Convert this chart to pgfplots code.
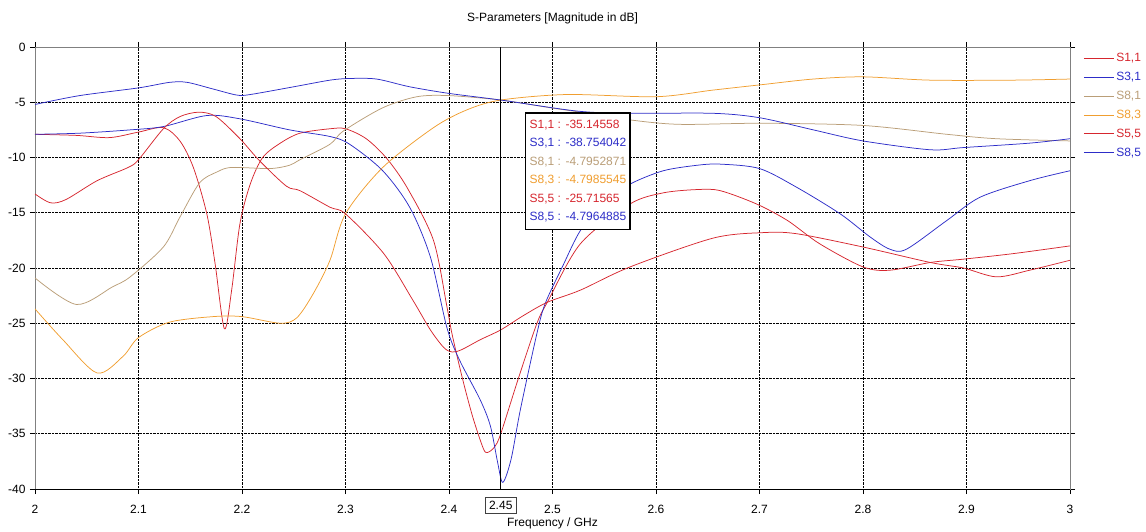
\documentclass[border=0pt]{standalone}
\usepackage{fontspec}
\setmainfont{Liberation Sans}
\usepackage{pgfplots}
\pgfplotsset{compat=1.18}

\definecolor{sred}{RGB}{214,38,46}
\definecolor{sblue}{RGB}{45,45,200}
\definecolor{stan}{RGB}{186,158,120}
\definecolor{sorange}{RGB}{240,158,48}

\newcommand{\lbl}{\fontsize{12}{14}\selectfont}

\begin{document}
\begin{tikzpicture}
\useasboundingbox (-35pt,-42pt) rectangle (1111pt,489pt);
\begin{axis}[
  scale only axis, width=1035pt, height=442pt,
  xmin=2, xmax=3, ymin=-40, ymax=0,
  xtick={2,2.1,2.2,2.3,2.4,2.5,2.6,2.7,2.8,2.9,3},
  xticklabels={2,2.1,2.2,2.3,2.4,2.5,2.6,2.7,2.8,2.9,3},
  ytick={-40,-35,-30,-25,-20,-15,-10,-5,0},
  grid=major,
  major grid style={black, densely dotted, line width=0.7pt},
  axis line style={gray, line width=0.8pt},
  tick style={black, line width=0.6pt},
  tick align=outside, major tick length=5pt,
  ticklabel style={font=\lbl},
  /pgf/number format/assume math mode=true,
  xticklabel style={yshift=-8pt},
  yticklabel style={xshift=-1pt},
  extra x ticks={2.45},
  extra x tick labels={2.45},
  extra x tick style={grid=none, major tick length=0pt,
    xticklabel style={draw=black!75, line width=0.6pt, inner xsep=4pt, inner ysep=4pt, fill=white}},
  legend style={at={(1.01,0.995)}, anchor=north west, draw=none, fill=none,
    font=\lbl, row sep=5pt, legend cell align=left},
  legend image code/.code={\draw[#1] (0pt,0pt) -- (30pt,0pt);},
  every axis plot/.append style={line width=0.75pt, smooth, tension=0.5, mark=none},
]
% S1,1
\addplot[sred] coordinates {
(2.00,-7.9) (2.04,-8.0) (2.072,-8.2) (2.10,-7.7) (2.124,-7.3) (2.14,-8.5)
(2.153,-10.9) (2.166,-15.1) (2.174,-19.6) (2.183,-25.5) (2.19,-22.0) (2.198,-16.0)
(2.208,-12.4) (2.22,-10.0) (2.237,-8.7) (2.256,-7.8) (2.285,-7.4) (2.30,-7.4)
(2.32,-8.3) (2.34,-10.1) (2.36,-12.8) (2.385,-17.5) (2.398,-23.5) (2.403,-26.0)
(2.413,-30.0) (2.423,-33.5) (2.433,-36.3) (2.437,-36.7) (2.444,-36.2) (2.45,-35.0)
(2.467,-30.0) (2.485,-25.0) (2.495,-23.1) (2.527,-17.8) (2.575,-14.2) (2.607,-13.2)
(2.64,-12.9) (2.662,-13.0) (2.697,-14.2) (2.727,-15.7) (2.758,-17.8) (2.80,-19.9)
(2.826,-20.2) (2.865,-19.5) (2.897,-19.2) (2.945,-18.7) (3.0,-18.0)};
\addlegendentry{\textcolor{sred}{S1,1}}
% S3,1
\addplot[sblue] coordinates {
(2.00,-7.9) (2.043,-7.8) (2.092,-7.5) (2.124,-7.2) (2.166,-6.2) (2.198,-6.5)
(2.246,-7.5) (2.285,-8.1) (2.304,-8.8) (2.336,-11.2) (2.362,-14.5) (2.382,-19.0)
(2.398,-25.4) (2.41,-28.3) (2.43,-31.9) (2.44,-34.3) (2.447,-37.6) (2.452,-39.4)
(2.46,-37.3) (2.469,-32.8) (2.485,-25.9) (2.493,-23.2) (2.51,-19.8) (2.527,-16.6)
(2.55,-14.0) (2.575,-12.4) (2.607,-11.2) (2.64,-10.7) (2.662,-10.6) (2.70,-11.0)
(2.736,-12.7) (2.778,-15.1) (2.807,-17.2) (2.826,-18.3) (2.842,-18.3) (2.881,-15.7)
(2.913,-13.6) (2.961,-12.1) (3.0,-11.2)};
\addlegendentry{\textcolor{sblue}{S3,1}}
% S8,1
\addplot[stan] coordinates {
(2.00,-20.9) (2.04,-23.3) (2.075,-21.7) (2.092,-20.8) (2.124,-18.1) (2.14,-15.4)
(2.159,-12.3) (2.176,-11.3) (2.19,-10.9) (2.227,-11.0) (2.246,-10.7) (2.256,-10.2)
(2.285,-8.8) (2.298,-7.6) (2.336,-5.5) (2.369,-4.5) (2.40,-4.4) (2.45,-4.8)
(2.498,-5.5) (2.527,-5.9) (2.575,-6.6) (2.623,-7.0) (2.703,-6.9) (2.80,-7.1)
(2.881,-7.9) (2.929,-8.3) (3.0,-8.5)};
\addlegendentry{\textcolor{stan}{S8,1}}
% S8,3
\addplot[sorange] coordinates {
(2.00,-23.7) (2.027,-26.5) (2.06,-29.5) (2.085,-28.0) (2.10,-26.3) (2.13,-24.9)
(2.172,-24.4) (2.20,-24.4) (2.237,-25.0) (2.253,-24.5) (2.269,-22.3) (2.285,-19.3)
(2.30,-15.1) (2.336,-10.9) (2.385,-7.3) (2.417,-5.7) (2.45,-4.8) (2.514,-4.3)
(2.60,-4.5) (2.655,-3.9) (2.703,-3.4) (2.752,-2.9) (2.80,-2.7) (2.865,-3.0)
(2.945,-3.0) (3.0,-2.9)};
\addlegendentry{\textcolor{sorange}{S8,3}}
% S5,5
\addplot[sred] coordinates {
(2.00,-13.3) (2.015,-14.1) (2.03,-13.8) (2.06,-12.1) (2.09,-10.9) (2.10,-10.2)
(2.124,-7.4) (2.14,-6.3) (2.158,-5.9) (2.175,-6.3) (2.198,-8.3) (2.217,-10.3)
(2.243,-12.6) (2.256,-13.0) (2.285,-14.5) (2.30,-15.1) (2.337,-18.7) (2.365,-22.9)
(2.382,-25.6) (2.395,-27.2) (2.403,-27.6) (2.412,-27.4) (2.43,-26.5) (2.45,-25.6)
(2.472,-24.3) (2.495,-23.1) (2.527,-22.0) (2.575,-19.9) (2.655,-17.3) (2.703,-16.8)
(2.736,-16.9) (2.80,-18.1) (2.865,-19.5) (2.897,-20.0) (2.929,-20.8) (2.961,-20.2)
(3.0,-19.3)};
\addlegendentry{\textcolor{sred}{S5,5}}
% S8,5
\addplot[sblue] coordinates {
(2.00,-5.2) (2.043,-4.4) (2.10,-3.7) (2.13,-3.2) (2.147,-3.2) (2.172,-3.8)
(2.195,-4.35) (2.208,-4.3) (2.25,-3.6) (2.285,-3.0) (2.304,-2.85) (2.33,-2.9)
(2.362,-3.6) (2.40,-4.2) (2.45,-4.8) (2.524,-5.8) (2.575,-6.0) (2.655,-6.0)
(2.70,-6.4) (2.752,-7.5) (2.80,-8.5) (2.865,-9.3) (2.897,-9.1) (2.961,-8.7)
(3.0,-8.3)};
\addlegendentry{\textcolor{sblue}{S8,5}}

\draw[black, line width=1.5pt] (axis cs:2.45,-40) -- (axis cs:2.45,0);
\node[draw=black, line width=1.5pt, fill=white, align=left, anchor=north west,
      inner xsep=4pt, inner ysep=7pt, font=\fontsize{12}{18.5}\selectfont]
  at (axis cs:2.4734,-5.9)
  {\textcolor{sred}{S1,1 : -35.14558}\\
   \textcolor{sblue}{S3,1 : -38.754042}\\
   \textcolor{stan}{S8,1 : -4.7952871}\\
   \textcolor{sorange}{S8,3 : -4.7985545}\\
   \textcolor{sred}{S5,5 : -25.71565}\\
   \textcolor{sblue}{S8,5 : -4.7964885}};
\end{axis}
\draw[black, line width=0.8pt] (current axis.south west) -- (current axis.south east);
\node[font=\lbl] at ([yshift=29pt]current axis.north) {S-Parameters [Magnitude in dB]};
\node[font=\lbl] at ([yshift=-34pt]current axis.south) {Frequency / GHz};
\end{tikzpicture}
\end{document}
